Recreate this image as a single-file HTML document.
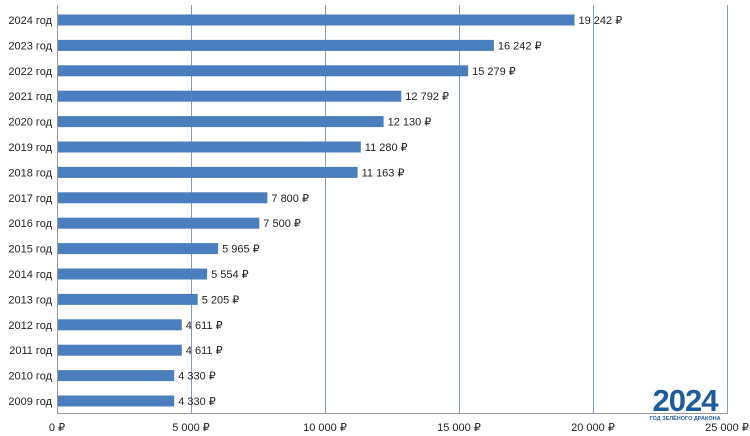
<!DOCTYPE html><html><head><meta charset="utf-8"><style>body{margin:0;background:#fff}svg{display:block;font-family:"Liberation Sans",sans-serif}</style></head><body>
<svg width="750" height="436" xmlns="http://www.w3.org/2000/svg">
<g stroke="#7f9cc0" stroke-width="1">
<line x1="191.5" y1="5" x2="191.5" y2="413"/><line x1="325.5" y1="5" x2="325.5" y2="413"/><line x1="459.5" y1="5" x2="459.5" y2="413"/><line x1="593.5" y1="5" x2="593.5" y2="413"/><line x1="727.5" y1="5" x2="727.5" y2="413"/>
</g>
<line x1="57.5" y1="5" x2="57.5" y2="414" stroke="#999"/>
<line x1="57" y1="413.5" x2="728" y2="413.5" stroke="#999"/>
<g fill="#4a7ebf">
<rect x="58" y="14.5" width="516.5" height="11"/>
<rect x="58" y="39.9" width="435.9" height="11"/>
<rect x="58" y="65.3" width="410.1" height="11"/>
<rect x="58" y="90.7" width="343.3" height="11"/>
<rect x="58" y="116.1" width="325.6" height="11"/>
<rect x="58" y="141.5" width="302.8" height="11"/>
<rect x="58" y="166.9" width="299.6" height="11"/>
<rect x="58" y="192.3" width="209.4" height="11"/>
<rect x="58" y="217.7" width="201.3" height="11"/>
<rect x="58" y="243.1" width="160.1" height="11"/>
<rect x="58" y="268.5" width="149.1" height="11"/>
<rect x="58" y="293.9" width="139.7" height="11"/>
<rect x="58" y="319.3" width="123.8" height="11"/>
<rect x="58" y="344.7" width="123.8" height="11"/>
<rect x="58" y="370.1" width="116.2" height="11"/>
<rect x="58" y="395.5" width="116.2" height="11"/>
</g>
<g font-size="11" fill="#222" text-anchor="end">
<text x="52" y="24">2024 год</text><text x="52" y="49.4">2023 год</text><text x="52" y="74.8">2022 год</text><text x="52" y="100.2">2021 год</text><text x="52" y="125.6">2020 год</text><text x="52" y="151">2019 год</text><text x="52" y="176.4">2018 год</text><text x="52" y="201.8">2017 год</text><text x="52" y="227.2">2016 год</text><text x="52" y="252.6">2015 год</text><text x="52" y="278">2014 год</text><text x="52" y="303.4">2013 год</text><text x="52" y="328.8">2012 год</text><text x="52" y="354.2">2011 год</text><text x="52" y="379.6">2010 год</text><text x="52" y="405">2009 год</text>
</g>
<g font-size="11" fill="#222">
<text x="578.5" y="24">19 242 ₽</text><text x="497.9" y="49.4">16 242 ₽</text><text x="472.1" y="74.8">15 279 ₽</text><text x="405.3" y="100.2">12 792 ₽</text><text x="387.6" y="125.6">12 130 ₽</text><text x="364.8" y="151">11 280 ₽</text><text x="361.6" y="176.4">11 163 ₽</text><text x="271.4" y="201.8">7 800 ₽</text><text x="263.3" y="227.2">7 500 ₽</text><text x="222.1" y="252.6">5 965 ₽</text><text x="211.1" y="278">5 554 ₽</text><text x="201.7" y="303.4">5 205 ₽</text><text x="185.8" y="328.8">4 611 ₽</text><text x="185.8" y="354.2">4 611 ₽</text><text x="178.2" y="379.6">4 330 ₽</text><text x="178.2" y="405">4 330 ₽</text>
</g>
<g font-size="11" fill="#222" text-anchor="middle">
<text x="57" y="431">0 ₽</text><text x="191" y="431">5 000 ₽</text><text x="325" y="431">10 000 ₽</text><text x="459" y="431">15 000 ₽</text><text x="593" y="431">20 000 ₽</text><text x="727" y="431">25 000 ₽</text>
</g>
<text x="685" y="411" font-size="31" font-weight="bold" fill="#1d5c9c" text-anchor="middle" letter-spacing="-1">2024</text>
<text x="685" y="420" font-size="5.5" font-weight="bold" fill="#1d5c9c" text-anchor="middle">ГОД ЗЕЛЁНОГО ДРАКОНА</text>
</svg></body></html>
